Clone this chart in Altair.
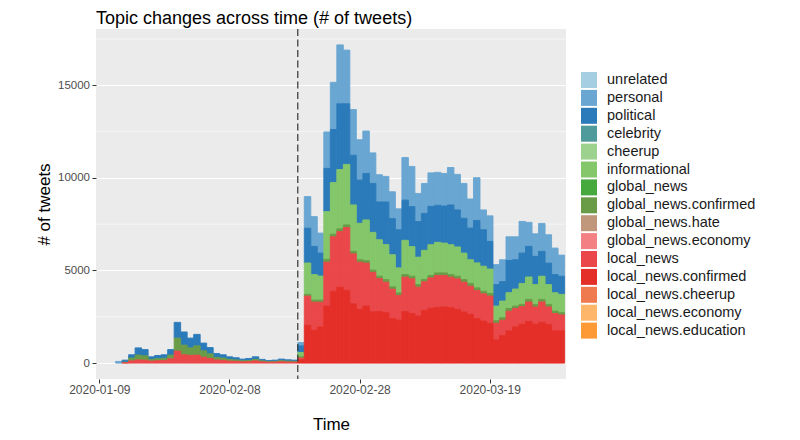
import altair as alt
import pandas as pd

# ---------------- data ----------------
days = list(range(72))  # bar index; tick labels below

personal = [0, 0, 0, 90, 0, 0, 0, 0, 0, 0,
            0, 0, 0, 0, 0, 0, 0, 0, 0, 0,
            0, 0, 0, 0, 0, 0, 0, 0, 0, 0,
            0, 180, 1705, 1610, 1080, 1970, 2550, 3180, 2900, 2470,
            2180, 2290, 1650, 1470, 1380, 1450, 1130, 2300, 2170, 1520,
            1620, 1810, 1780, 1760, 2020, 1920, 1880, 1570, 2310, 1070,
            1380, 1080, 1180, 1280, 1240, 1710, 1300, 1220, 1510, 1530,
            1430, 1140]
political = [0, 0, 0, 0, 110, 180, 390, 340, 140, 170,
             190, 300, 850, 710, 530, 620, 420, 340, 210, 180,
             140, 120, 90, 110, 140, 80, 55, 65, 90, 75,
             65, 360, 1880, 1520, 1240, 2330, 2860, 3550, 3270, 2680,
             2330, 2510, 2640, 2040, 2300, 1950, 2060, 2170, 2160, 1920,
             1990, 2070, 2000, 2000, 2150, 2000, 1880, 1710, 2290, 1970,
             1490, 1160, 1050, 1740, 1580, 1640, 1650, 1520, 1340, 1160,
             980, 980]
informational = [0] * 31 + [
    230, 1700, 1380, 1300, 2580, 2790, 3200, 3270, 2510,
    1970, 2200, 2040, 1970, 1890, 1730, 1350, 1850, 1600, 1480,
    1570, 1660, 1650, 1610, 1610, 1580, 1430, 1280, 1350, 1350,
    1320, 790, 900, 850, 920, 1130, 1210, 1070, 1250, 1070,
    990, 990]
global_news_confirmed = [0, 0, 0, 0, 30, 150, 260, 230, 90, 110,
                         120, 200, 700, 520, 400, 500, 340, 250, 140, 120,
                         90, 70, 55, 60, 80, 50, 35, 40, 50, 45,
                         40, 70, 90, 110, 110, 150, 140, 150, 140, 130,
                         130, 130, 120, 130, 140, 130, 140, 140, 140, 140,
                         130, 130, 140, 140, 140, 140, 140, 150, 140, 140,
                         140, 140, 130, 150, 130, 120, 140, 140, 140, 140,
                         130, 120]
local_news = [0, 0, 0, 0, 20, 120, 170, 160, 110, 130,
              140, 230, 650, 450, 420, 430, 320, 250, 170, 150,
              110, 100, 70, 80, 120, 70, 50, 55, 75, 60,
              55, 90, 1575, 1520, 1340, 2370, 2940, 3000, 3390, 2700,
              2550, 2320, 2140, 1780, 1650, 1590, 1330, 1860, 1870, 1560,
              1540, 1640, 1720, 1700, 1650, 1650, 1610, 1520, 1520, 1470,
              1470, 900, 840, 1060, 1000, 950, 1050, 930, 1100, 940,
              940, 860]
local_news_confirmed = [0] * 31 + [
    180, 2040, 1770, 1950, 3080, 3880, 4100, 3930, 3200,
    2900, 3080, 2760, 2780, 2720, 2400, 2320, 2780, 2680, 2540,
    2850, 2960, 3010, 3030, 2990, 2900, 2760, 2630, 2400, 2270,
    2150, 1250, 1480, 1740, 1950, 2100, 2250, 2100, 2200, 2090,
    1740, 1740]

series = {
    "personal": personal,
    "political": political,
    "informational": informational,
    "global_news.confirmed": global_news_confirmed,
    "local_news": local_news,
    "local_news.confirmed": local_news_confirmed,
}

categories = ["unrelated", "personal", "political", "celebrity", "cheerup",
              "informational", "global_news", "global_news.confirmed",
              "global_news.hate", "global_news.economy", "local_news",
              "local_news.confirmed", "local_news.cheerup",
              "local_news.economy", "local_news.education"]
colors = ["#a6cee3", "#69a6d2", "#2b7bba", "#4f9a9a", "#9dd28e",
          "#84c66a", "#45a93d", "#6a9c48", "#c1977b", "#f38183",
          "#e94749", "#e42f28", "#f07a50", "#fdb66a", "#fd9a36"]

tick_index = [0, 20, 40, 60]
tick_labels = ["2020-01-09", "2020-02-08", "2020-02-28", "2020-03-19"]
cutoff_index = [30.5]
major_y = [0, 5000, 10000, 15000]
minor_y = [2500, 7500, 12500, 17500]

# ---------------- build table ----------------
rows = []
for name, vals in series.items():
    ordv = len(categories) - 1 - categories.index(name)
    for d, v in zip(days, vals):
        if v > 0:
            rows.append({"j": d, "topic": name, "n": v, "ord": ordv})
df = pd.DataFrame(rows)

FONT = "Liberation Sans"
xscale = alt.Scale(domain=[-0.51, 71.72], nice=False, zero=False)
yscale = alt.Scale(domain=[-859, 18039], nice=False, zero=False)

label_expr = " : ".join(
    f"datum.value == {p} ? '{l}'" for p, l in zip(tick_index, tick_labels)
) + " : ''"

xaxis = alt.Axis(values=tick_index, labelExpr=label_expr, grid=False,
                 domain=False, tickColor="#333333", tickSize=4,
                 labelPadding=1, labelColor="#4d4d4d",
                 labelFontSize=12, labelFont=FONT,
                 titleFont=FONT, titleFontSize=17,
                 titleFontWeight="normal", titleColor="black",
                 titlePadding=21)
yaxis = alt.Axis(values=major_y, format="d", grid=True, gridColor="white",
                 gridWidth=1.1, domain=False, tickColor="#333333",
                 tickSize=4, labelPadding=2.5, labelColor="#4d4d4d",
                 labelFontSize=11.5, labelFont=FONT,
                 titleFont=FONT, titleFontSize=17,
                 titleFontWeight="normal", titleColor="black",
                 titlePadding=4)

minor = alt.Chart(pd.DataFrame({"v": minor_y})).mark_rule(
    color="white", strokeWidth=0.55
).encode(y=alt.Y("v:Q", scale=yscale, axis=yaxis, title="# of tweets"))

bars = alt.Chart(df).transform_stack(
    stack="n", groupby=["j"], as_=["y0", "y1"],
    sort=[alt.SortField("ord", order="ascending")]
).transform_calculate(
    x0="datum.j - 0.5", x1="datum.j + 0.5"
).mark_rect(strokeWidth=0.9).encode(
    x=alt.X("x0:Q", scale=xscale, title="Time", axis=xaxis),
    x2="x1:Q",
    y=alt.Y("y0:Q", scale=yscale, title="# of tweets", axis=yaxis),
    y2="y1:Q",
    color=alt.Color("topic:N", scale=alt.Scale(domain=categories, range=colors),
                    legend=alt.Legend(title=None, orient="none", legendX=485,
                                      legendY=43, symbolType="square",
                                      symbolSize=256, symbolStrokeWidth=0,
                                      symbolOpacity=1, rowPadding=1.9,
                                      labelOffset=10, labelFont=FONT,
                                      labelFontSize=14.5, labelColor="#1a1a1a",
                                      labelLimit=300, padding=0)),
    stroke=alt.Stroke("topic:N",
                      scale=alt.Scale(domain=categories, range=colors),
                      legend=None),
)

vline = alt.Chart(pd.DataFrame({"c": cutoff_index})).mark_rule(
    color="#333333", strokeWidth=1.2, strokeDash=[7, 3.5]
).encode(x=alt.X("c:Q", scale=xscale, axis=xaxis, title="Time"))

chart = alt.layer(minor, bars, vline).properties(
    width=470, height=350,
    title=alt.TitleParams("Topic changes across time (# of tweets)",
                          anchor="start", frame="group", font=FONT,
                          fontSize=18, fontWeight="normal", color="black",
                          offset=0),
    autosize=alt.AutoSizeParams(type="none"),
    padding={"left": 88, "top": 21, "right": 226, "bottom": 53},
).configure_view(fill="#ebebeb", stroke=None)

chart.save("out.html", embed_options={"renderer": "svg", "actions": False})
